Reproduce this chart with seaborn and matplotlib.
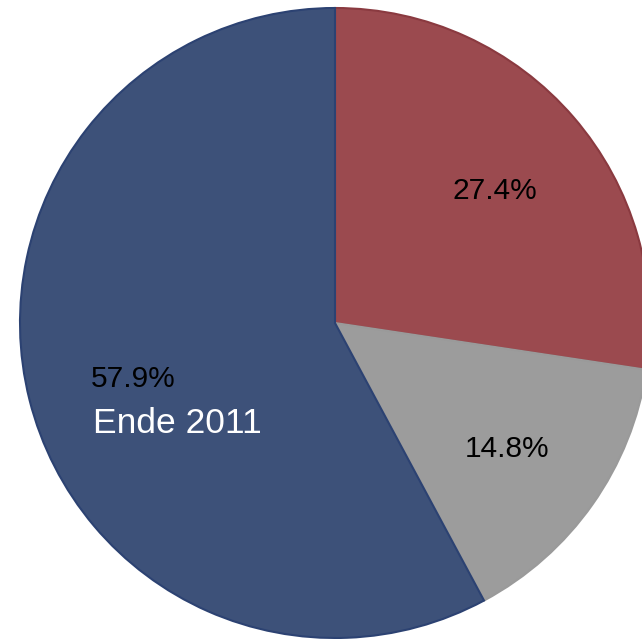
import matplotlib
matplotlib.use("Agg")
import matplotlib.pyplot as plt
import seaborn as sns

## data
labels = ["Rot", "Grau", "Blau"]
shares = [27.4, 14.8, 57.9]
year_label = "Ende 2011"

## style
sns.set_style("white")
plt.rcParams["font.family"] = ["Liberation Sans", "DejaVu Sans"]

colors = sns.color_palette(["#9b4a4f", "#9c9c9c", "#3d5179"])
edges = ["#8a3a40", "#9a9a9a", "#2c4272"]

fig = plt.figure(figsize=(6.42, 6.39), dpi=100)
ax = fig.add_axes([0, 0, 1, 1])

wedges, texts, autotexts = ax.pie(
    shares,
    colors=colors,
    startangle=90,
    counterclock=False,
    center=(335, 316),
    radius=315,
    autopct=lambda p: "",
    pctdistance=0.665,
    wedgeprops={"linewidth": 1.5},
    frame=True,
)
for w, e in zip(wedges, edges):
    w.set_edgecolor(e)

# percentage labels at wedge centres (nudged down a little)
for t, v in zip(autotexts, shares):
    x, y = t.get_position()
    t.set_position((x + 1, y - 5))
    t.set_text(f"{v:.1f}%")
    t.set_fontsize(21.5)
    t.set_color("black")

# year caption under the blue label
bx, by = autotexts[2].get_position()
ax.text(bx + 45, by - 44, year_label, fontsize=25.5, color="white",
        ha="center", va="center")

ax.set_xlim(0, 642)
ax.set_ylim(0, 639)
ax.set_aspect("auto")
ax.axis("off")

plt.savefig("out.png", dpi=100)
plt.close()
